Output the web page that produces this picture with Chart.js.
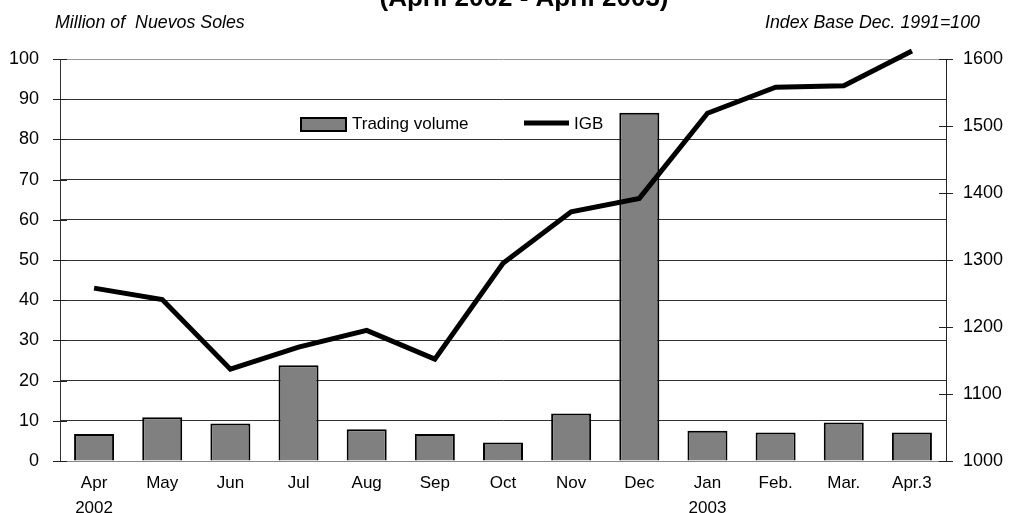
<!DOCTYPE html>
<html>
<head>
<meta charset="utf-8">
<script src="https://cdn.jsdelivr.net/npm/chart.js@4/dist/chart.umd.min.js"></script>
<style>
  html, body { margin: 0; padding: 0; background: #fff; }
  #wrap { width: 1011px; height: 513px; position: relative; }
</style>
</head>
<body>
<div id="wrap"><canvas id="chart"></canvas></div>
<script>
// Data
const months = [
  ["Apr", "2002"], "May", "Jun", "Jul", "Aug", "Sep", "Oct", "Nov", "Dec",
  ["Jan", "2003"], "Feb.", "Mar.", "Apr.3"
];
const tradingVolume = [6.7, 10.9, 9.3, 23.8, 7.9, 6.7, 4.6, 11.8, 86.6, 7.5, 7.1, 9.6, 7.1];
const igb = [1258, 1241, 1137, 1170, 1195, 1152, 1295, 1372, 1392, 1519, 1558, 1560, 1612];

const FONT = "'Liberation Sans', Arial, sans-serif";

// extra texts + little tick marks crossing the axes + legend inside the plot
const decorations = {
  id: "decorations",
  afterDraw(chart) {
    const ctx = chart.ctx;
    const area = chart.chartArea;
    ctx.save();

    // title (cut at top like the original)
    ctx.fillStyle = "#000";
    ctx.font = "bold 26px " + FONT;
    ctx.textAlign = "center";
    ctx.textBaseline = "alphabetic";
    ctx.fillText("(April 2002 - April 2003)", 524, 6);

    ctx.font = "italic 17.8px " + FONT;
    ctx.textBaseline = "middle";
    ctx.textAlign = "left";
    ctx.fillText("Million of  Nuevos Soles", 55, 23);
    ctx.textAlign = "right";
    ctx.fillText("Index Base Dec. 1991=100", 980, 23);

    // tick marks
    ctx.strokeStyle = "#222";
    ctx.lineWidth = 1;
    ["y", "y1"].forEach((id) => {
      const s = chart.scales[id];
      const x = id === "y" ? area.left : area.right;
      s.ticks.forEach((t) => {
        const py = Math.round(s.getPixelForValue(t.value)) + 0.5;
        ctx.beginPath();
        ctx.moveTo(x - 7, py);
        ctx.lineTo(x + 7, py);
        ctx.stroke();
      });
    });

    // legend
    const bar = chart.data.datasets[1];
    const line = chart.data.datasets[0];
    ctx.fillStyle = bar.backgroundColor;
    ctx.fillRect(301, 118, 45, 13);
    ctx.strokeStyle = "#000";
    ctx.lineWidth = 2;
    ctx.strokeRect(301, 118, 45, 13);
    ctx.fillStyle = "#000";
    ctx.font = "17px " + FONT;
    ctx.textAlign = "left";
    ctx.fillText(bar.label, 352, 124);

    ctx.strokeStyle = line.borderColor;
    ctx.lineWidth = 5;
    ctx.beginPath();
    ctx.moveTo(524, 123);
    ctx.lineTo(569, 123);
    ctx.stroke();
    ctx.fillText(line.label, 574, 124);

    ctx.restore();
  }
};

new Chart(document.getElementById("chart"), {
  data: {
    labels: months,
    datasets: [
      {
        type: "line",
        label: "IGB",
        data: igb,
        yAxisID: "y1",
        borderColor: "#000",
        borderWidth: 5,
        borderJoinStyle: "miter",
        borderCapStyle: "butt",
        pointRadius: 0,
        tension: 0,
        clip: false,
        order: 0
      },
      {
        type: "bar",
        label: "Trading volume",
        data: tradingVolume,
        yAxisID: "y",
        backgroundColor: "#808080",
        borderColor: "#000",
        borderWidth: 2,
        categoryPercentage: 1,
        barPercentage: 0.587,
        order: 1
      }
    ]
  },
  options: {
    responsive: true,
    maintainAspectRatio: false,
    animation: false,
    layout: { padding: { top: 59, left: 0, right: 0, bottom: 0 } },
    plugins: {
      legend: { display: false },
      tooltip: { enabled: false }
    },
    scales: {
      x: {
        grid: { display: false, drawTicks: false },
        border: { color: "#888", width: 1 },
        ticks: {
          color: "#000",
          font: { family: FONT, size: 17, lineHeight: 1.47 },
          padding: 10,
          maxRotation: 0,
          autoSkip: false
        },
        afterFit(scale) { scale.height = 52; }
      },
      y: {
        position: "left",
        min: 0,
        max: 100,
        grid: {
          drawTicks: false,
          color: (c) => c.tick.value === 100 ? "#999" : c.tick.value === 0 ? "#888" : "#333",
          lineWidth: 1
        },
        border: { color: "#333", width: 1 },
        ticks: {
          stepSize: 10,
          color: "#000",
          font: { family: FONT, size: 18 },
          padding: 21
        },
        afterFit(scale) { scale.width = 60; }
      },
      y1: {
        position: "right",
        min: 1000,
        max: 1600,
        grid: { drawOnChartArea: false, drawTicks: false },
        border: { color: "#222", width: 1 },
        ticks: {
          stepSize: 100,
          color: "#000",
          font: { family: FONT, size: 18 },
          padding: 17,
          callback: (v) => String(v)
        },
        afterFit(scale) { scale.width = 65; }
      }
    }
  },
  plugins: [decorations]
});
</script>
</body>
</html>
